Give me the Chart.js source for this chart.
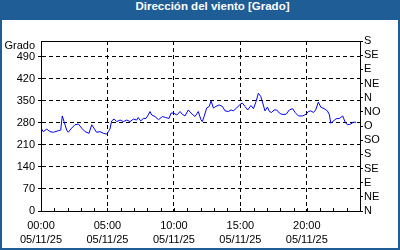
<!DOCTYPE html>
<html>
<head>
<meta charset="utf-8">
<script src="https://cdn.jsdelivr.net/npm/chart.js@4"></script>
<style>
    body { margin: 0; background: #fff; }
    #frame { position: relative; width: 400px; height: 250px; background: #1f5d96; }
    #inner { position: absolute; left: 2px; top: 20px; width: 396px; height: 228px; background: #fff; }
    #title { position: absolute; left: 0; top: 0; width: 400px; height: 20px; line-height: 20px;
             color: #fff; font: bold 11.5px "Liberation Sans", sans-serif; text-align: center;
             box-sizing: border-box; padding-left: 25px; }
    #graphique { position: absolute; left: 0; top: 0; }
</style>
</head>
<body>
<div id="frame">
    <div id="inner"></div>
    <div id="title">Dirección del viento [Grado]</div>
    <canvas id="graphique" width="400" height="250"></canvas>
</div>
<script>
// minutes depuis 00:00 et direction en degrés
const minutes = [0, 10, 26, 41, 56, 78, 89, 96, 104, 116, 123, 138, 153, 169, 184, 199, 217, 229, 239, 251,
    266, 281, 296, 304, 311, 319, 330, 342, 357, 372, 387, 402, 417, 432, 439, 450, 462, 474, 484, 492,
    500, 515, 530, 548, 563, 578, 587, 598, 613, 628, 638, 650, 665, 677, 695, 710, 722, 728, 737, 748,
    759, 768, 778, 789, 804, 819, 831, 846, 858, 868, 883, 899, 909, 921, 933, 948,
    959, 971, 981, 992, 1001, 1011, 1022, 1031, 1041, 1052, 1064, 1076, 1087, 1106, 1121, 1136, 1147, 1162, 1181, 1196,
    1207, 1218, 1230, 1240, 1252, 1263, 1278, 1293, 1302, 1308, 1317, 1332, 1347, 1362, 1373, 1383, 1398, 1410, 1422];
const direction = [263, 252, 260, 252, 250, 255, 257, 302, 284, 257, 250, 263, 274, 276, 263, 252, 247, 274, 263, 250,
    252, 247, 244, 252, 260, 286, 292, 284, 289, 284, 289, 284, 292, 289, 297, 286, 294, 294, 305, 316,
    305, 300, 290, 300, 297, 294, 311, 311, 305, 316, 307, 302, 321, 311, 300, 316, 290, 284, 302, 327,
    332, 350, 327, 332, 337, 332, 318, 316, 321, 318, 327, 339, 343, 332, 321, 335,
    325, 348, 374, 364, 343, 318, 330, 316, 313, 321, 321, 311, 307, 307, 321, 325, 313, 302, 302, 307,
    316, 318, 313, 321, 346, 330, 325, 318, 305, 279, 284, 293, 294, 302, 282, 274, 276, 282, 282];

const xTicks = [0, 300, 600, 900, 1200];
const xLabels = ["00:00", "05:00", "10:00", "15:00", "20:00"];
const dateLabel = "05/11/25";
const yTicks = [0, 70, 140, 210, 280, 350, 420, 490];
const rumboTicks = [0, 45, 90, 135, 180, 225, 270, 315, 360, 405, 450, 495, 540];
const rumboLabels = ["N", "NE", "E", "SE", "S", "SO", "O", "NO", "N", "NE", "E", "SE", "S"];
const yMax = 540;

Chart.defaults.font.family = "Liberation Sans";
Chart.defaults.font.size = 11;
Chart.defaults.color = "#000";

const cadre = {
    id: "cadre",
    afterDraw(chart) {
        const ctx = chart.ctx;
        const a = chart.chartArea;
        const x = chart.scales.x;
        ctx.save();
        ctx.setLineDash([]);
        ctx.strokeStyle = "#000";
        ctx.lineWidth = 1;
        ctx.strokeRect(Math.round(a.left) + 0.5, Math.round(a.top) + 0.5,
            Math.round(a.right - a.left), Math.round(a.bottom - a.top));
        // petites graduations horaires
        ctx.beginPath();
        for (let m = 60; m < 1440; m += 60) {
            const px = Math.round(x.getPixelForValue(m)) + 0.5;
            ctx.moveTo(px, a.bottom);
            ctx.lineTo(px, a.bottom - 3);
        }
        ctx.stroke();
        ctx.textAlign = "right";
        ctx.textBaseline = "middle";
        ctx.font = "11px 'Liberation Sans'";
        ctx.fillStyle = "#000";
        ctx.fillText("Grado", a.left - 6, a.top + 5);
        ctx.restore();
    }
};

new Chart(document.getElementById("graphique"), {
    type: "line",
    data: {
        datasets: [{
            data: minutes.map((m, i) => ({ x: m, y: direction[i] })),
            borderColor: "#0000ff",
            borderWidth: 1,
            pointRadius: 0,
            tension: 0,
            fill: false
        }]
    },
    options: {
        responsive: false,
        animation: false,
        devicePixelRatio: 1,
        layout: { padding: { top: 41 } },
        plugins: { legend: { display: false }, tooltip: { enabled: false } },
        scales: {
            x: {
                type: "linear",
                min: 0,
                max: 1440,
                afterBuildTicks: (s) => { s.ticks = xTicks.map(v => ({ value: v })); },
                afterFit: (s) => { s.height = 39; },
                ticks: {
                    autoSkip: false,
                    maxRotation: 0,
                    padding: 7,
                    font: { lineHeight: 1.36 },
                    callback: (v) => [xLabels[xTicks.indexOf(v)], dateLabel]
                },
                grid: { color: "#000", drawTicks: false },
                border: { color: "#000", dash: [4, 3] }
            },
            y: {
                position: "left",
                min: 0,
                max: yMax,
                afterBuildTicks: (s) => { s.ticks = yTicks.map(v => ({ value: v })); },
                afterFit: (s) => { s.width = 41; },
                ticks: { padding: 3, autoSkip: false },
                grid: { color: "#000", tickLength: 3, tickBorderDash: [], tickColor: "#000" },
                border: { color: "#000", dash: [4, 3] }
            },
            rumbo: {
                position: "right",
                min: 0,
                max: yMax,
                afterBuildTicks: (s) => { s.ticks = rumboTicks.map(v => ({ value: v })); },
                afterFit: (s) => { s.width = 40; },
                ticks: {
                    padding: 1,
                    autoSkip: false,
                    callback: (v) => rumboLabels[rumboTicks.indexOf(v)]
                },
                grid: { drawOnChartArea: false, tickLength: 3, tickColor: "#000" },
                border: { color: "#000" }
            }
        }
    },
    plugins: [cadre]
});
</script>
</body>
</html>
